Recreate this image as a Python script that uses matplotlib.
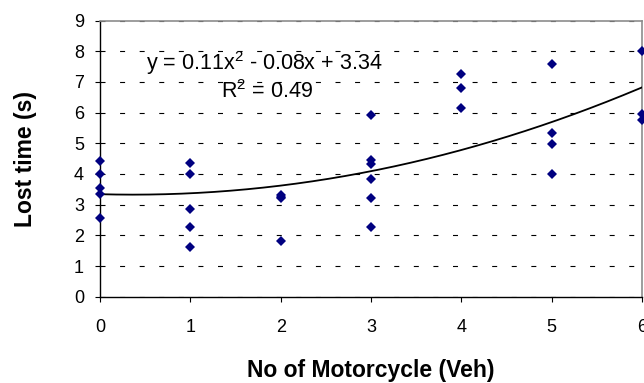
import numpy as np
import matplotlib
matplotlib.use("Agg")
import matplotlib.pyplot as plt

# ---- data ----
x_vals = [0, 0, 0, 0, 0,
          1, 1, 1, 1, 1,
          2, 2, 2, 2,
          3, 3, 3, 3, 3, 3,
          4, 4, 4,
          5, 5, 5, 5,
          6, 6, 6]
y_vals = [4.42, 3.99, 3.53, 3.34, 2.55,
          4.37, 3.99, 2.86, 2.28, 1.63,
          3.33, 3.25, 3.20, 1.83,
          5.92, 4.46, 4.32, 3.84, 3.21, 2.28,
          7.25, 6.80, 6.14,
          7.58, 5.35, 4.97, 4.00,
          8.02, 5.96, 5.76]
trend_coef = [0.11, -0.08, 3.34]   # y = 0.11x^2 - 0.08x + 3.34
x_ticks = [0, 1, 2, 3, 4, 5, 6]
y_ticks = [0, 1, 2, 3, 4, 5, 6, 7, 8, 9]
eq_label = "y = 0.11x$\\mathregular{^2}$ - 0.08x + 3.34"
r2_label = "R$\\mathregular{^2}$ = 0.49"
x_label = "No of Motorcycle (Veh)"
y_label = "Lost time (s)"

plt.rcParams['font.family'] = ['Liberation Sans', 'DejaVu Sans']
plt.rcParams['mathtext.fontset'] = 'custom'
plt.rcParams['mathtext.rm'] = 'Liberation Sans'
plt.rcParams['mathtext.it'] = 'Liberation Sans:italic'
plt.rcParams['mathtext.bf'] = 'Liberation Sans:bold'
plt.rcParams['lines.scale_dashes'] = False

W, H = 644, 383
fig = plt.figure(figsize=(W / 100, H / 100), dpi=100)
L, R, T, B = 100, 642, 20.5, 296.7
ax = fig.add_axes([L / W, 1 - B / H, (R - L) / W, (B - T) / H])

xs = np.array(x_vals, dtype=float)
ys = np.array(y_vals, dtype=float)

xx = np.linspace(min(x_vals), max(x_vals), 200)
ax.plot(xx, np.polyval(trend_coef, xx), color='black', lw=1.3, zorder=3)

ax.plot(xs, ys, linestyle='none', marker='D', markersize=5.2,
        color='#000080', markeredgewidth=0, zorder=4, clip_on=False)

ax.set_xlim(0, 6)
ax.set_ylim(0, 9)
ax.set_xticks(x_ticks)
ax.set_yticks(y_ticks)
ax.tick_params(axis='both', direction='out', length=3.6, width=0.8,
               color='black', labelsize=13)
ax.tick_params(axis='x', pad=12.5)
ax.tick_params(axis='y', pad=8)

ax.set_axisbelow(True)
ax.yaxis.grid(True, color='black', lw=0.8, linestyle=(0, (3.6, 10.5)))
ax.xaxis.grid(False)

for s in ['left', 'bottom']:
    ax.spines[s].set_color('black')
    ax.spines[s].set_linewidth(1.0)
for s in ['top', 'right']:
    ax.spines[s].set_color('#8c8c8c')
    ax.spines[s].set_linewidth(1.2)

ax.set_xlabel(x_label, fontsize=16.5, fontweight='bold')
ax.xaxis.label.set_va('baseline')
ax.xaxis.set_label_coords(0.5, (B - 377) / (B - T))
ax.set_ylabel(y_label, fontsize=16.5, fontweight='bold')
ax.yaxis.label.set_va('baseline')
ax.yaxis.set_label_coords((31.7 - L) / (R - L), 0.5)

ax.text(1.82, 7.40, eq_label, fontsize=15.5, ha='center', va='baseline')
ax.text(1.85, 6.46, r2_label, fontsize=15.5, ha='center', va='baseline')

fig.savefig("out.png", dpi=100)
